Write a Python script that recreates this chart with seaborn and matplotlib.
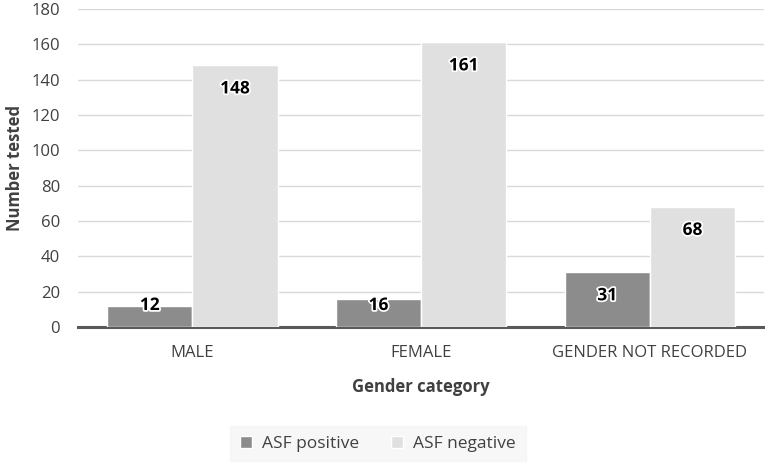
import matplotlib
matplotlib.use("Agg")
import matplotlib.pyplot as plt
import matplotlib.patheffects as pe
import seaborn as sns
import pandas as pd

categories = ["MALE", "FEMALE", "GENDER NOT RECORDED"]
asf_positive = [12, 16, 31]
asf_negative = [148, 161, 68]
series_names = ["ASF positive", "ASF negative"]
colors = ["#8c8c8c", "#e0e0e0"]

df = pd.DataFrame({
    "Gender category": categories * 2,
    "Number tested": asf_positive + asf_negative,
    "Result": [series_names[0]] * 3 + [series_names[1]] * 3,
})

sns.set_theme(style="white")
plt.rcParams["font.family"] = ["Open Sans", "DejaVu Sans"]

fig = plt.figure(figsize=(7.65, 4.66), dpi=100)
ax = fig.add_axes([0.102, 0.298, 0.897, 0.683])

sns.barplot(data=df, x="Gender category", y="Number tested", hue="Result",
            palette=colors, width=0.745, gap=0.0, edgecolor="white",
            linewidth=1.0, ax=ax, zorder=3)

ax.set_ylim(0, 180)
ax.set_yticks(range(0, 181, 20))
ax.yaxis.grid(True, color="#d9d9d9", linewidth=1.0, zorder=0)
ax.set_axisbelow(True)
for side in ["top", "right", "left"]:
    ax.spines[side].set_visible(False)
ax.spines["bottom"].set_color("#595959")
ax.spines["bottom"].set_linewidth(2.2)
ax.tick_params(axis="both", length=0, labelsize=12, colors="#404040")
ax.tick_params(axis="x", pad=13)
ax.tick_params(axis="y", pad=13)
ax.set_xlim(-0.5, 2.5)

ax.set_ylabel("Number tested", fontsize=12, fontweight="bold", color="#404040", labelpad=5)
ax.set_xlabel("Gender category", fontsize=12, fontweight="bold", color="#404040", labelpad=12)

# value labels inside the top of each bar
for cont in ax.containers:
    for bar in cont:
        h = bar.get_height()
        ypos = max(h - 13, 12.5)
        ax.text(bar.get_x() + bar.get_width() / 2, ypos, f"{h:.0f}",
                ha="center", va="center", fontsize=12.5, fontweight="bold",
                color="black", zorder=5,
                path_effects=[pe.withStroke(linewidth=2.5, foreground="white")])

handles, labels = ax.get_legend_handles_labels()
ax.get_legend().remove()
fig.legend(handles, labels, loc="center", bbox_to_anchor=(0.494, 0.048),
           ncol=2, frameon=True, facecolor="#f5f5f5", edgecolor="#f5f5f5",
           fancybox=False, fontsize=12.5, handlelength=0.7, handleheight=0.7,
           columnspacing=1.8, handletextpad=0.6, borderpad=0.55,
           labelcolor="#404040")

fig.savefig("out.png", dpi=100, facecolor="white")
